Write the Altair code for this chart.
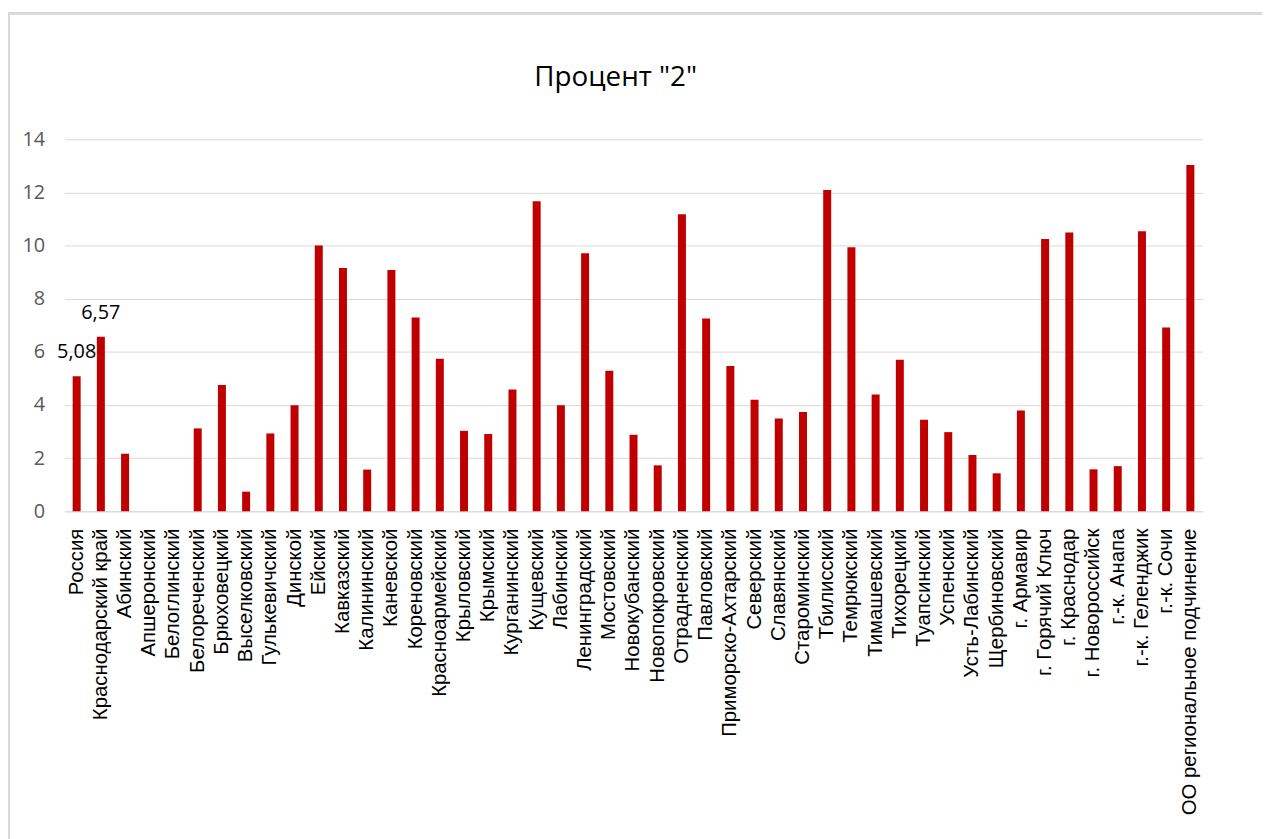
import altair as alt
import pandas as pd

categories = [
    "Россия", "Краснодарский край", "Абинский", "Апшеронский", "Белоглинский",
    "Белореченский", "Брюховецкий", "Выселковский", "Гулькевичский", "Динской",
    "Ейский", "Кавказский", "Калининский", "Каневской", "Кореновский",
    "Красноармейский", "Крыловский", "Крымский", "Курганинский", "Кущевский",
    "Лабинский", "Ленинградский", "Мостовский", "Новокубанский", "Новопокровский",
    "Отрадненский", "Павловский", "Приморско-Ахтарский", "Северский", "Славянский",
    "Староминский", "Тбилисский", "Темрюкский", "Тимашевский", "Тихорецкий",
    "Туапсинский", "Успенский", "Усть-Лабинский", "Щербиновский", "г. Армавир",
    "г. Горячий Ключ", "г. Краснодар", "г. Новороссийск", "г.-к. Анапа",
    "г.-к. Геленджик", "г.-к. Сочи", "ОО региональное подчинение",
]
values = [
    5.08, 6.57, 2.17, 0, 0,
    3.12, 4.75, 0.74, 2.93, 3.99,
    10.0, 9.16, 1.57, 9.08, 7.29,
    5.74, 3.03, 2.91, 4.58, 11.67,
    3.99, 9.71, 5.29, 2.88, 1.73,
    11.18, 7.26, 5.47, 4.20, 3.49,
    3.74, 12.09, 9.94, 4.40, 5.70,
    3.45, 2.98, 2.12, 1.43, 3.79,
    10.25, 10.49, 1.58, 1.70, 10.54,
    6.92, 13.03,
]
value_labels = ["5,08", "6,57"]

labels = value_labels + [""] * (len(categories) - len(value_labels))
df = pd.DataFrame({"cat": categories, "val": values, "lab": labels})

W, H = 1147, 375

x_enc = alt.X(
    "cat:N", sort=categories, title=None,
    scale=alt.Scale(paddingInner=0.67, paddingOuter=0.335),
    axis=alt.Axis(
        labelAngle=270, labelAlign="right", labelBaseline="middle",
        labelFont="Liberation Sans", labelFontSize=20.5, labelColor="#000000",
        labelPadding=17, ticks=False, domainColor="#d9d9d9", domainWidth=1,
        labelOverlap=False, labelLimit=0,
    ),
)
y_enc = alt.Y(
    "val:Q", title=None,
    scale=alt.Scale(domain=[0, 14], nice=False),
    axis=alt.Axis(
        values=[0, 2, 4, 6, 8, 10, 12, 14], grid=True, gridColor="#d9d9d9",
        gridWidth=1, domain=False, ticks=False, labelFont="Open Sans",
        labelFontSize=20, labelColor="#595959", labelPadding=20,
    ),
)

bars = alt.Chart(df).mark_bar(color="#C00000").encode(x=x_enc, y=y_enc)

text = alt.Chart(df).mark_text(
    font="Open Sans", fontSize=20, color="#000000", dy=-24, baseline="middle"
).encode(x=alt.X("cat:N", sort=categories), y=alt.Y("val:Q"), text="lab:N")

frame = alt.Chart(df).mark_rect(
    fill=None, stroke="#d9d9d9", strokeWidth=2
).encode(
    x=alt.value(-56), x2=alt.value(1300), y=alt.value(-127), y2=alt.value(900)
)

chart = alt.layer(frame, bars, text).properties(
    width=W, height=H,
    title=alt.TitleParams(
        'Процент "2"', font="Open Sans", fontSize=28, fontWeight="normal",
        color="#000000", anchor="middle", offset=-80, dx=-18,
    ),
    autosize=alt.AutoSizeParams(type="none"),
    padding={"left": 57, "top": 129, "right": 60, "bottom": 330},
).configure(background="white").configure_view(stroke=None, strokeWidth=0)

chart.save("out.html", embed_options={"renderer": "svg", "actions": False})
